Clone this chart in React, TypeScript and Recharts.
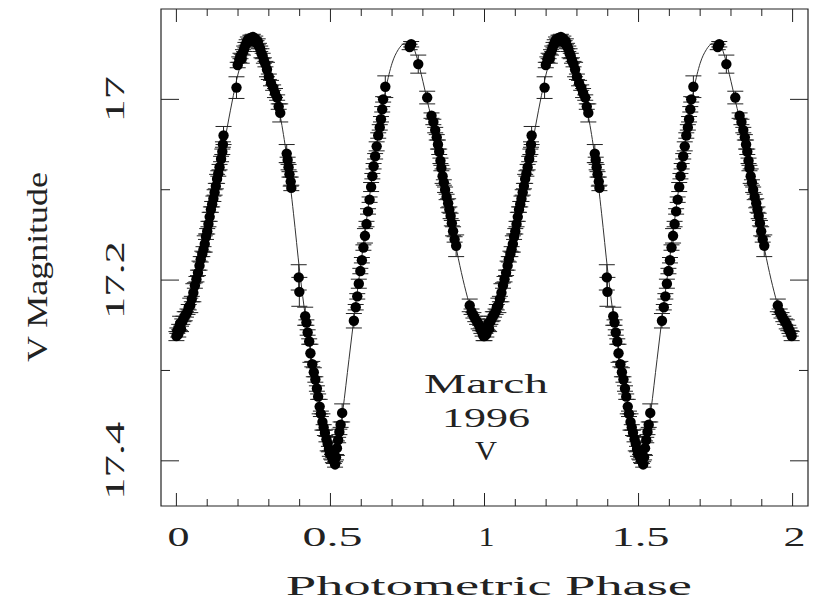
import { ComposedChart, Scatter, Line, XAxis, YAxis, ErrorBar, ReferenceArea } from 'recharts'

// observed points over one cycle (the plot repeats them at phase + 1)
const obsPhase = [
  0.000, 0.003, 0.006, 0.009, 0.012, 0.015, 0.019, 0.023, 0.027, 0.031,
  0.036, 0.040, 0.045, 0.050, 0.055, 0.060, 0.065, 0.070, 0.075, 0.079,
  0.084, 0.088, 0.092, 0.096, 0.100, 0.104, 0.108, 0.112, 0.116, 0.120,
  0.124, 0.128, 0.132, 0.136, 0.140, 0.145, 0.149, 0.151, 0.153, 0.195,
  0.199, 0.204, 0.208, 0.212, 0.216, 0.220, 0.224, 0.228, 0.232, 0.236,
  0.240, 0.244, 0.248, 0.252, 0.256, 0.260, 0.264, 0.268, 0.272, 0.276,
  0.280, 0.284, 0.289, 0.294, 0.300, 0.307, 0.314, 0.320, 0.327, 0.332,
  0.337, 0.358, 0.361, 0.364, 0.367, 0.371, 0.373, 0.397, 0.399, 0.418,
  0.422, 0.426, 0.431, 0.435, 0.441, 0.446, 0.451, 0.456, 0.460, 0.465,
  0.469, 0.474, 0.478, 0.482, 0.487, 0.491, 0.495, 0.498, 0.502, 0.505,
  0.508, 0.511, 0.515, 0.518, 0.521, 0.525, 0.529, 0.533, 0.538, 0.576,
  0.582, 0.587, 0.592, 0.597, 0.602, 0.607, 0.612, 0.617, 0.622, 0.627,
  0.632, 0.636, 0.640, 0.645, 0.650, 0.655, 0.660, 0.664, 0.668, 0.671,
  0.678, 0.757, 0.762, 0.785, 0.814, 0.828, 0.834, 0.840, 0.845, 0.849,
  0.853, 0.857, 0.860, 0.864, 0.868, 0.872, 0.877, 0.882, 0.886, 0.890,
  0.894, 0.898, 0.903, 0.908, 0.952, 0.958, 0.964, 0.970, 0.976, 0.981,
  0.986, 0.990, 0.994, 0.997,
]

const obsMag = [
  17.262, 17.256, 17.260, 17.252, 17.248, 17.254, 17.246, 17.243, 17.240, 17.238,
  17.235, 17.230, 17.228, 17.221, 17.214, 17.206, 17.199, 17.192, 17.184, 17.177,
  17.171, 17.166, 17.160, 17.152, 17.146, 17.138, 17.130, 17.122, 17.116, 17.110,
  17.103, 17.096, 17.088, 17.082, 17.075, 17.066, 17.058, 17.050, 17.040, 16.987,
  16.962, 16.956, 16.952, 16.955, 16.948, 16.944, 16.940, 16.937, 16.934, 16.936,
  16.932, 16.934, 16.931, 16.935, 16.933, 16.938, 16.936, 16.941, 16.944, 16.949,
  16.952, 16.957, 16.961, 16.967, 16.975, 16.982, 16.987, 16.993, 16.998, 17.008,
  17.015, 17.060, 17.067, 17.075, 17.083, 17.091, 17.098, 17.197, 17.213, 17.240,
  17.247, 17.258, 17.268, 17.281, 17.293, 17.302, 17.310, 17.320, 17.329, 17.340,
  17.348, 17.357, 17.363, 17.369, 17.376, 17.381, 17.387, 17.392, 17.389, 17.396,
  17.399, 17.394, 17.404, 17.396, 17.386, 17.377, 17.368, 17.360, 17.347, 17.245,
  17.230, 17.218, 17.204, 17.190, 17.178, 17.164, 17.151, 17.138, 17.124, 17.111,
  17.097, 17.085, 17.074, 17.063, 17.052, 17.040, 17.031, 17.022, 17.011, 17.000,
  16.986, 16.942, 16.939, 16.961, 16.998, 17.018, 17.025, 17.034, 17.042, 17.050,
  17.058, 17.068, 17.076, 17.085, 17.092, 17.100, 17.108, 17.115, 17.122, 17.129,
  17.137, 17.146, 17.155, 17.162, 17.228, 17.235, 17.239, 17.243, 17.246, 17.249,
  17.253, 17.256, 17.259, 17.262,
]

const obsErr = [
  0.005, 0.003, 0.003, 0.003, 0.008, 0.003, 0.003, 0.003, 0.005, 0.003,
  0.003, 0.003, 0.008, 0.003, 0.010, 0.003, 0.003, 0.003, 0.005, 0.003,
  0.003, 0.003, 0.009, 0.003, 0.003, 0.003, 0.005, 0.003, 0.003, 0.003,
  0.003, 0.003, 0.005, 0.003, 0.003, 0.003, 0.003, 0.003, 0.010, 0.012,
  0.003, 0.003, 0.003, 0.005, 0.003, 0.003, 0.003, 0.003, 0.003, 0.003,
  0.003, 0.005, 0.003, 0.003, 0.003, 0.003, 0.003, 0.003, 0.003, 0.005,
  0.003, 0.003, 0.003, 0.008, 0.003, 0.003, 0.003, 0.005, 0.003, 0.003,
  0.010, 0.010, 0.003, 0.003, 0.003, 0.005, 0.003, 0.014, 0.016, 0.010,
  0.003, 0.003, 0.003, 0.010, 0.003, 0.005, 0.003, 0.003, 0.003, 0.008,
  0.003, 0.009, 0.003, 0.003, 0.003, 0.008, 0.003, 0.003, 0.009, 0.003,
  0.003, 0.009, 0.003, 0.003, 0.008, 0.003, 0.003, 0.003, 0.010, 0.008,
  0.003, 0.003, 0.005, 0.003, 0.003, 0.003, 0.008, 0.003, 0.003, 0.003,
  0.005, 0.003, 0.003, 0.003, 0.005, 0.003, 0.003, 0.003, 0.003, 0.003,
  0.012, 0.003, 0.003, 0.010, 0.007, 0.003, 0.003, 0.003, 0.003, 0.005,
  0.003, 0.003, 0.003, 0.008, 0.003, 0.003, 0.003, 0.005, 0.003, 0.003,
  0.003, 0.005, 0.003, 0.012, 0.007, 0.003, 0.003, 0.003, 0.003, 0.005,
  0.003, 0.003, 0.003, 0.005,
]

// fitted light curve over one cycle
const fitPhase = [
  0.00, 0.02, 0.04, 0.06, 0.08, 0.10, 0.12, 0.14, 0.16, 0.18,
  0.20, 0.22, 0.24, 0.26, 0.28, 0.30, 0.32, 0.34, 0.36, 0.38,
  0.40, 0.42, 0.44, 0.46, 0.48, 0.50, 0.51, 0.52, 0.54, 0.56,
  0.58, 0.60, 0.62, 0.64, 0.66, 0.68, 0.70, 0.72, 0.74, 0.76,
  0.78, 0.80, 0.82, 0.84, 0.86, 0.88, 0.90, 0.92, 0.94, 0.96,
  0.98, 1.00,
]
const fitMag = [
  17.258, 17.248, 17.234, 17.212, 17.180, 17.146, 17.112, 17.077, 17.040, 17.004,
  16.972, 16.950, 16.937, 16.934, 16.944, 16.966, 16.992, 17.024, 17.068, 17.126,
  17.190, 17.244, 17.290, 17.328, 17.362, 17.388, 17.398, 17.394, 17.345, 17.288,
  17.232, 17.179, 17.126, 17.074, 17.030, 16.988, 16.960, 16.945, 16.938, 16.937,
  16.953, 16.980, 17.010, 17.036, 17.072, 17.112, 17.150, 17.184, 17.213, 17.237,
  17.252, 17.258,
]

const xTicks = [
  0, 0.1, 0.2, 0.3, 0.4, 0.5, 0.6, 0.7, 0.8, 0.9, 1,
  1.1, 1.2, 1.3, 1.4, 1.5, 1.6, 1.7, 1.8, 1.9, 2,
]
const xLabels: Record<string, string> = { '0': '0', '0.5': '0.5', '1': '1', '1.5': '1.5', '2': '2' }
const yTicks = [17, 17.1, 17.2, 17.3, 17.4]
const yLabels: Record<string, string> = { '17': '17', '17.2': '17.2', '17.4': '17.4' }

const cycles = [0, 1]

const obsData = cycles.flatMap((c) =>
  obsPhase.map((p, i) => ({ phase: p + c, mag: obsMag[i], err: obsErr[i] })),
)
const fitData = cycles.flatMap((c) =>
  fitPhase
    .map((p, i) => ({ phase: p + c, mag: fitMag[i] }))
    .filter((d) => c === 0 || d.phase > 1),
)

const W = 819
const H = 603
const PLOT_W = 647
const PLOT_H = 497
const INK = '#222'
const FONT = '"Liberation Serif", "DejaVu Serif", serif'

const xLabelLen: Record<string, number> = { '0': 22, '0.5': 60, '1': 16, '1.5': 58, '2': 22 }
const yLabelLen: Record<string, number> = { '17': 46, '17.2': 78, '17.4': 78 }

function XTick(props: any) {
  const { x, y, payload } = props
  const label = xLabels[String(payload.value)]
  const len = label ? 13 : 7
  return (
    <g>
      <line x1={x} y1={y} x2={x} y2={y - len} stroke={INK} strokeWidth={1} />
      <line x1={x} y1={y - PLOT_H} x2={x} y2={y - PLOT_H + len} stroke={INK} strokeWidth={1} />
      {label && (
        <text
          x={x + 2}
          y={y + 40}
          textAnchor="middle"
          fontFamily={FONT}
          fontSize={28}
          fill={INK}
          textLength={xLabelLen[label]}
          lengthAdjust="spacingAndGlyphs"
        >
          {label}
        </text>
      )}
    </g>
  )
}

function YTick(props: any) {
  const { x, y, payload } = props
  const label = yLabels[String(payload.value)]
  const len = label ? 18 : 9
  return (
    <g>
      <line x1={x} y1={y} x2={x + len} y2={y} stroke={INK} strokeWidth={1} />
      <line x1={x + PLOT_W} y1={y} x2={x + PLOT_W - len} y2={y} stroke={INK} strokeWidth={1} />
      {label && (
        <text
          x={0}
          y={0}
          transform={`translate(${x - 37}, ${y}) rotate(-90)`}
          textAnchor="middle"
          fontFamily={FONT}
          fontSize={28}
          fill={INK}
          textLength={yLabelLen[label]}
          lengthAdjust="spacingAndGlyphs"
        >
          {label}
        </text>
      )}
    </g>
  )
}

const Dot = (p: any) => <circle cx={p.cx} cy={p.cy} r={5.2} fill="#000" />

export default function App() {
  return (
    <div style={{ position: 'absolute', left: 0, top: 0, width: W, height: H, background: '#fff' }}>
      <ComposedChart
        width={W}
        height={H}
        margin={{ top: 9, right: 11, bottom: 57, left: 101 }}
      >
        <XAxis
          type="number"
          dataKey="phase"
          domain={[-0.05, 2.05]}
          allowDataOverflow
          ticks={xTicks}
          interval={0}
          height={40}
          tickSize={0}
          tickMargin={0}
          axisLine={false}
          tickLine={false}
          tick={XTick}
        />
        <YAxis
          type="number"
          dataKey="mag"
          domain={[16.9, 17.45]}
          reversed
          allowDataOverflow
          ticks={yTicks}
          interval={0}
          width={60}
          tickSize={0}
          tickMargin={0}
          axisLine={false}
          tickLine={false}
          tick={YTick}
        />
        <ReferenceArea
          x1={-0.05}
          x2={2.05}
          y1={16.9}
          y2={17.45}
          fill="none"
          stroke={INK}
          strokeWidth={1.2}
          fillOpacity={0}
        />
        <Line
          data={fitData}
          dataKey="mag"
          type="monotone"
          stroke="#333"
          strokeWidth={1}
          dot={false}
          activeDot={false}
          isAnimationActive={false}
        />
        <Scatter data={obsData} fill="#000" shape={Dot} isAnimationActive={false}>
          <ErrorBar dataKey="err" direction="y" width={8} stroke={INK} strokeWidth={1} />
        </Scatter>
      </ComposedChart>
      <svg
        width={W}
        height={H}
        style={{ position: 'absolute', left: 0, top: 0, pointerEvents: 'none' }}
        fontFamily={FONT}
        fill={INK}
      >
        <text x={489} y={595} textAnchor="middle" fontSize={28} textLength={406} lengthAdjust="spacingAndGlyphs">
          Photometric Phase
        </text>
        <text
          transform="translate(47, 267) rotate(-90)"
          textAnchor="middle"
          fontSize={30}
          textLength={190}
          lengthAdjust="spacingAndGlyphs"
        >
          V Magnitude
        </text>
        <text x={486} y={393} textAnchor="middle" fontSize={27} textLength={124} lengthAdjust="spacingAndGlyphs">
          March
        </text>
        <text x={486} y={427} textAnchor="middle" fontSize={27} textLength={88} lengthAdjust="spacingAndGlyphs">
          1996
        </text>
        <text x={486} y={460} textAnchor="middle" fontSize={27} textLength={22} lengthAdjust="spacingAndGlyphs">
          V
        </text>
      </svg>
    </div>
  )
}
